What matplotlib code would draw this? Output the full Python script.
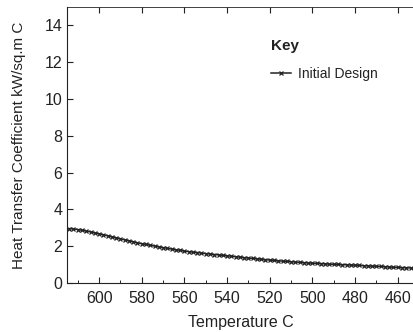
import matplotlib.pyplot as plt
from matplotlib.ticker import MultipleLocator

# temperature (C), read every 2 degrees off the reference
temperature = [614, 612, 610, 608, 606, 604, 602, 600, 598, 596, 594, 592, 590,
               588, 586, 584, 582, 580, 578, 576, 574, 572, 570, 568, 566, 564,
               562, 560, 558, 556, 554, 552, 550, 548, 546, 544, 542, 540, 538,
               536, 534, 532, 530, 528, 526, 524, 522, 520, 518, 516, 514, 512,
               510, 508, 506, 504, 502, 500, 498, 496, 494, 492, 490, 488, 486,
               484, 482, 480, 478, 476, 474, 472, 470, 468, 466, 464, 462, 460,
               458, 456, 454, 452]
htc_initial = [2.95, 2.93, 2.90, 2.86, 2.82, 2.77, 2.72, 2.67, 2.62, 2.56, 2.51,
               2.45, 2.40, 2.34, 2.29, 2.24, 2.18, 2.13, 2.09, 2.05, 2.00, 1.96,
               1.92, 1.88, 1.84, 1.80, 1.77, 1.73, 1.70, 1.67, 1.65, 1.62, 1.59,
               1.57, 1.54, 1.52, 1.49, 1.47, 1.45, 1.42, 1.40, 1.37, 1.35, 1.33,
               1.31, 1.28, 1.26, 1.24, 1.22, 1.20, 1.18, 1.17, 1.15, 1.13, 1.12,
               1.10, 1.08, 1.07, 1.06, 1.05, 1.03, 1.02, 1.01, 1.00, 0.99, 0.98,
               0.97, 0.96, 0.95, 0.93, 0.92, 0.91, 0.90, 0.89, 0.88, 0.86, 0.85,
               0.84, 0.83, 0.82, 0.81, 0.80]

plt.rcParams['font.family'] = ['Liberation Sans', 'DejaVu Sans']
ink = '#222222'

fig = plt.figure(figsize=(4.14, 3.32), dpi=100)
ax = fig.add_axes([0.162, 0.148, 0.84, 0.831])

ax.plot(temperature, htc_initial, color=ink, lw=1.1, marker='x',
        ms=3.3, mew=0.9, label='Initial Design')

ax.set_xlim(615, 452)
ax.set_ylim(0, 15)
ax.xaxis.set_major_locator(MultipleLocator(20))
ax.xaxis.set_minor_locator(MultipleLocator(10))
ax.yaxis.set_major_locator(MultipleLocator(2))
ax.tick_params(direction='in', length=4, width=0.8, labelsize=11.5,
               colors=ink, top=True, right=False)
ax.tick_params(axis='x', pad=6)
ax.tick_params(which='minor', direction='in', length=2, width=0.6, top=False)
ax.spines['right'].set_visible(False)
ax.spines['top'].set_linewidth(0.6)
for s in ('left', 'bottom', 'top'):
    ax.spines[s].set_color(ink)

ax.set_xlabel('Temperature C', fontsize=11.5, color=ink, labelpad=6)
ax.set_ylabel('Heat Transfer Coefficient kW/sq.m C', fontsize=11,
              color=ink, labelpad=13)

leg = ax.legend(title='Key', loc='upper left', bbox_to_anchor=(0.585, 0.885),
                frameon=False, fontsize=10, borderpad=0, borderaxespad=0,
                handlelength=1.5, handletextpad=0.5, labelspacing=1.0,
                alignment='left',
                title_fontproperties={'weight': 'bold', 'size': 11})
for t in leg.get_texts():
    t.set_color(ink)
leg.get_title().set_color(ink)

fig.savefig('out.png', dpi=100)
